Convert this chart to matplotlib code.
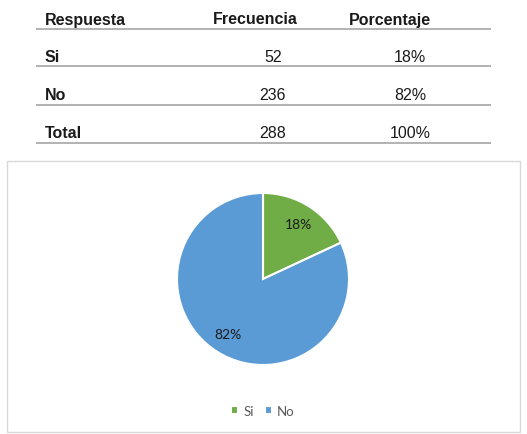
import matplotlib.pyplot as plt

# table data
headers = ['Respuesta', 'Frecuencia', 'Porcentaje']
respuestas = ['Si', 'No', 'Total']
frecuencias = [52, 236, 288]
porcentajes = ['18%', '82%', '100%']

# pie data
labels = ['Si', 'No']
values = [52, 236]
colors = ['#70AD47', '#5B9BD5']

W, H = 527, 435
fig = plt.figure(figsize=(W / 100, H / 100), dpi=100)

# background axes in pixel coordinates for the table and the chart frame
bg = fig.add_axes([0, 0, 1, 1])
bg.set_xlim(0, W)
bg.set_ylim(H, 0)
bg.axis('off')

tfont = dict(family='Liberation Sans', fontsize=11.5, color='#1a1a1a')
bg.text(45, 20, headers[0], ha='left', va='center', weight='bold', **tfont)
bg.text(255, 20, headers[1], ha='center', va='center', weight='bold', **tfont)
bg.text(390, 20, headers[2], ha='center', va='center', weight='bold', **tfont)

row_y = [58, 96, 134]
for y, r, f, p in zip(row_y, respuestas, frecuencias, porcentajes):
    bg.text(45, y, r, ha='left', va='center', weight='bold', **tfont)
    bg.text(273, y, str(f), ha='center', va='center', **tfont)
    bg.text(410, y, p, ha='center', va='center', **tfont)

bg.hlines([30, 67, 106, 144], 36, 491, color='#a6a6a6', lw=1.2)

# chart frame
bg.add_patch(plt.Rectangle((7, 162), 513, 271, fill=False, ec='#d9d9d9', lw=1))

# pie
cx, cy, r = 263, 280, 86
ax = fig.add_axes([(cx - r) / W, (H - cy - r) / H, 2 * r / W, 2 * r / H])
wedges, _, autotexts = ax.pie(values, colors=colors, startangle=90, counterclock=False,
                              autopct='%1.0f%%', pctdistance=0.76,
                              wedgeprops=dict(edgecolor='white', linewidth=1.5),
                              textprops=dict(family='Lato', fontsize=10, color='#1a1a1a'))
ax.set_xlim(-1, 1)
ax.set_ylim(-1, 1)
ax.set_aspect('equal')

fig.legend(wedges, labels, loc='center', bbox_to_anchor=(263 / W, 1 - 412 / H), ncol=2,
           frameon=False, handlelength=0.55, handleheight=0.55, handletextpad=0.4,
           columnspacing=0.8, prop=dict(family='Lato', size=9.5), labelcolor='#595959')

fig.savefig('out.png', dpi=100)
